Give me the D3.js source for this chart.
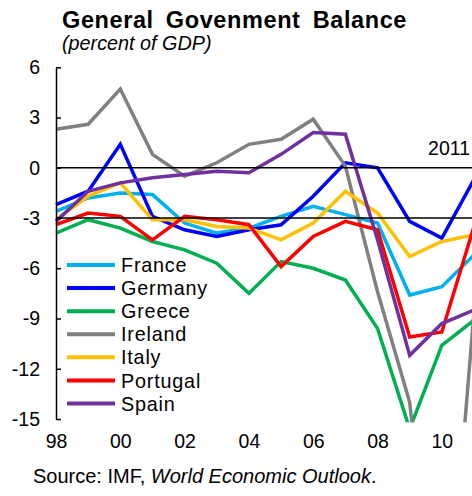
<!DOCTYPE html>
<html>
<head>
<meta charset="utf-8">
<script src="https://cdn.jsdelivr.net/npm/d3@7"></script>
<style>
  body { margin: 0; background: #fff; }
  svg { display: block; font-family: "Liberation Sans", Arial, sans-serif; }
</style>
</head>
<body>
<svg width="472" height="496"></svg>
<script>
const years = [1998, 1999, 2000, 2001, 2002, 2003, 2004, 2005, 2006, 2007, 2008, 2009, 2010, 2011];
const countries = ["France", "Germany", "Greece", "Ireland", "Italy", "Portugal", "Spain"];
const colors = ["#00b0f0", "#0000ff", "#00b050", "#808080", "#ffc000", "#ff0000", "#7030a0"];

const france = [-2.6, -1.8, -1.5, -1.6, -3.3, -3.9, -3.6, -2.9, -2.3, -2.8, -3.3, -7.6, -7.1, -5.2];
const germany = [-2.2, -1.4, 1.4, -2.9, -3.7, -4.1, -3.7, -3.4, -1.7, 0.3, 0.0, -3.2, -4.2, -0.7];
const greece = [-3.9, -3.1, -3.6, -4.4, -4.9, -5.7, -7.5, -5.6, -6.0, -6.7, -9.6, -15.6, -10.6, -9.1];
const ireland = [2.3, 2.6, 4.7, 0.8, -0.5, 0.3, 1.4, 1.7, 2.9, 0.1, -7.4, -14.0, -32.0, -8.6];
const italy = [-3.1, -1.7, -0.9, -3.1, -3.1, -3.5, -3.6, -4.3, -3.3, -1.4, -2.7, -5.3, -4.4, -4.0];
const portugal = [-3.4, -2.7, -2.9, -4.3, -2.9, -3.1, -3.4, -5.9, -4.1, -3.2, -3.7, -10.1, -9.8, -3.5];
const spain = [-3.2, -1.4, -0.9, -0.6, -0.4, -0.2, -0.3, 0.8, 2.1, 2.0, -4.3, -11.2, -9.3, -8.5];

const yTicks = [6, 3, 0, -3, -6, -9, -12, -15];
const xTicks = [1998, 2000, 2002, 2004, 2006, 2008, 2010];
const refLines = [0, -3];

const series = [france, germany, greece, ireland, italy, portugal, spain];

const svg = d3.select("svg");
const width = +svg.attr("width");

const x = d3.scaleLinear().domain([1998, 2011]).range([56, 474]);
const y = d3.scaleLinear().domain([-15, 6]).range([419, 67.3]);

// title
svg.append("text")
  .attr("x", 62).attr("y", 28)
  .attr("font-size", 23.5).attr("font-weight", "bold")
  .attr("word-spacing", 5).attr("letter-spacing", 0.6)
  .text("General Govenment Balance");

svg.append("text")
  .attr("x", 62).attr("y", 50)
  .attr("font-size", 19.8).attr("font-style", "italic")
  .text("(percent of GDP)");

// clip for the lines
svg.append("clipPath").attr("id", "plot-clip")
  .append("rect")
  .attr("x", x(1998) - 2).attr("y", y(6))
  .attr("width", width - x(1998) + 2).attr("height", y(-15.2) - y(6));

const line = d3.line()
  .x((d, i) => x(years[i]))
  .y((d) => y(d));

const plot = svg.append("g").attr("clip-path", "url(#plot-clip)");

plot.selectAll(".line")
  .data(series)
  .enter()
  .append("path")
  .attr("class", "line")
  .attr("d", (d) => line(d))
  .attr("fill", "none")
  .attr("stroke", (d, i) => colors[i])
  .attr("stroke-width", 3.5)
  .attr("stroke-linejoin", "miter");

// reference lines at 0 and -3
svg.selectAll(".ref")
  .data(refLines)
  .enter()
  .append("line")
  .attr("class", "ref")
  .attr("x1", x(1998)).attr("x2", width)
  .attr("y1", (d) => y(d)).attr("y2", (d) => y(d))
  .attr("stroke", "#000")
  .attr("stroke-width", 1.5);

svg.append("text")
  .attr("x", 470).attr("y", y(0) - 13)
  .attr("text-anchor", "end")
  .attr("font-size", 19.5)
  .text("2011");

// y axis
const yAxis = d3.axisLeft(y)
  .tickValues(yTicks)
  .tickSizeInner(-5)
  .tickSizeOuter(0)
  .tickPadding(16)
  .tickFormat(d3.format("d"));

const yAxisG = svg.append("g")
  .attr("transform", `translate(${x(1998)},0)`)
  .call(yAxis);
yAxisG.select(".domain").attr("stroke-width", 1.5);
yAxisG.selectAll(".tick line").attr("stroke-width", 1.5);
yAxisG.selectAll("text")
  .attr("font-size", 19.5)
  .attr("font-family", "Liberation Sans, Arial, sans-serif")
  .attr("fill", "#000")
  .text((d) => (d < 0 ? "-" + Math.abs(d) : d));

// x axis
const xAxis = d3.axisBottom(x)
  .tickValues(xTicks)
  .tickSize(0)
  .tickPadding(15)
  .tickFormat((d) => String(d % 100).padStart(2, "0"));

const xAxisG = svg.append("g")
  .attr("transform", `translate(0,${y(-15)})`)
  .call(xAxis);
xAxisG.select(".domain").remove();
xAxisG.selectAll("text")
  .attr("font-size", 19.5)
  .attr("font-family", "Liberation Sans, Arial, sans-serif")
  .attr("fill", "#000");

// legend
const legendY = d3.scalePoint().domain(countries).range([265, 403.5]);

const legend = svg.selectAll("g.legend")
  .data(countries)
  .enter()
  .append("g")
  .attr("class", "legend")
  .attr("transform", (d) => `translate(0,${legendY(d)})`);

legend.append("line")
  .attr("x1", 67).attr("x2", 115)
  .attr("stroke", (d, i) => colors[i])
  .attr("stroke-width", 4);

legend.append("text")
  .attr("x", 121)
  .attr("dy", "0.36em")
  .attr("font-size", 19.8)
  .attr("letter-spacing", 0.8)
  .text((d) => d);

// source
const source = svg.append("text")
  .attr("x", 33).attr("y", 483)
  .attr("font-size", 20);
source.append("tspan").text("Source: IMF, ");
source.append("tspan").attr("font-style", "italic").text("World Economic Outlook");
source.append("tspan").text(".");
</script>
</body>
</html>
